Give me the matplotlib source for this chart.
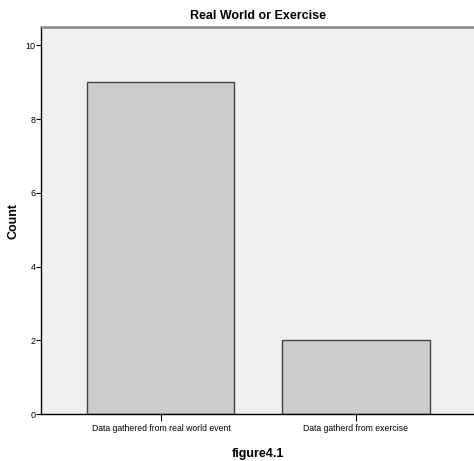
import matplotlib
matplotlib.use("Agg")
import matplotlib.pyplot as plt

categories = ["Data gathered from real world event", "Data gatherd from exercise"]
counts = [9, 2]
yticks = [0, 2, 4, 6, 8, 10]

plt.rcParams['font.family'] = ["Liberation Sans", "DejaVu Sans"]

fig = plt.figure(figsize=(4.74, 4.61), dpi=100)
fig.patch.set_facecolor("white")
ax = fig.add_axes([41/474, 47/461, 1 - 41/474, (414-27)/461])
ax.set_facecolor("#f0f0f0")

x = list(range(len(categories)))
ax.bar(x, counts, width=0.754, color="#cccccc", edgecolor="#444444", linewidth=1.0, zorder=2)

ax.set_xlim(-0.615, 1.605)
ax.set_ylim(0, 10.5)
ax.set_yticks(yticks)
ax.set_xticks(x)
ax.set_xticklabels(categories, fontsize=6.2)
ax.tick_params(axis='y', labelsize=6.5, length=3.7, width=0.8, pad=0.3, colors="black")
ax.tick_params(axis='x', length=5, width=0.8, pad=2)

for s in ["left", "bottom"]:
    ax.spines[s].set_color("black")
    ax.spines[s].set_linewidth(1.0)
ax.spines["right"].set_visible(False)
ax.spines["top"].set_color("#888888")
ax.spines["top"].set_linewidth(1.8)

ax.set_title("Real World or Exercise", fontsize=9, fontweight="bold", pad=6)
ax.set_ylabel("Count", fontsize=9, fontweight="bold", labelpad=4)
ax.set_xlabel("figure4.1", fontsize=9, fontweight="bold", labelpad=11)

fig.savefig("out.png", dpi=100)
